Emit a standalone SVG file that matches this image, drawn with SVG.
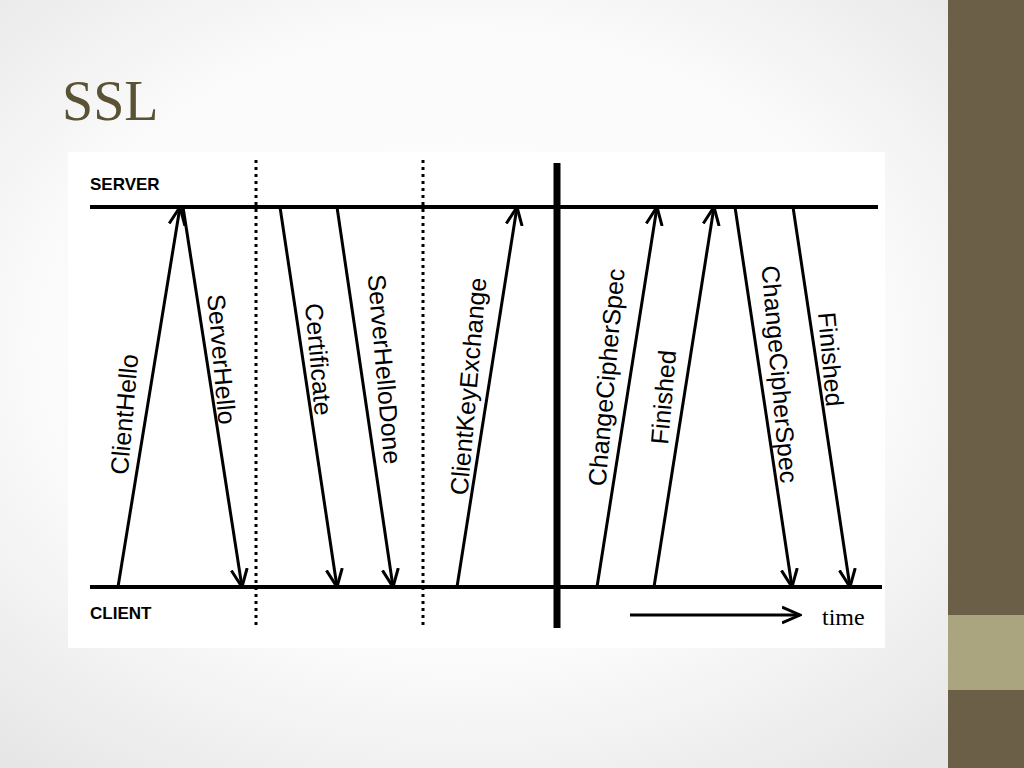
<svg xmlns="http://www.w3.org/2000/svg" width="1024" height="768" viewBox="0 0 1024 768">
<defs>
<radialGradient id="bg" cx="0.45" cy="0.45" r="0.7"><stop offset="0" stop-color="#ffffff"/><stop offset="0.6" stop-color="#fafafa"/><stop offset="1" stop-color="#e6e6e6"/></radialGradient>
<marker id="ah" viewBox="0 0 20 20" refX="18" refY="10" markerWidth="20" markerHeight="20" markerUnits="userSpaceOnUse" orient="auto"><polyline points="0,2 18,10 0,18" fill="none" stroke="#000" stroke-width="3"/></marker>
</defs>
<style>
.ar{stroke:#000;stroke-width:3;fill:none;marker-end:url(#ah)}
.lb{font-family:"Liberation Sans",Arial,sans-serif;font-size:25px;fill:#000;text-anchor:middle}
.hd{font-family:"Liberation Sans",Arial,sans-serif;font-size:17px;font-weight:bold;fill:#000}
.dot{stroke:#000;stroke-width:3;stroke-dasharray:3,4}
</style>
<rect width="1024" height="768" fill="url(#bg)"/>
<rect x="948" y="0" width="76" height="768" fill="#6b5f47"/>
<rect x="948" y="615" width="76" height="75" fill="#aaa57e"/>
<text x="62" y="120" font-family="Liberation Serif,serif" font-size="56" fill="#5a5235">SSL</text>
<rect x="68" y="152" width="817" height="496" fill="#fff"/>
<g id="axes">
<text class="hd" x="90" y="190">SERVER</text>
<text class="hd" x="90" y="619">CLIENT</text>
<line x1="90" y1="207" x2="878" y2="207" stroke="#000" stroke-width="4"/>
<line x1="90" y1="587" x2="882" y2="587" stroke="#000" stroke-width="4"/>
<line class="dot" x1="256" y1="160" x2="256" y2="625"/>
<line class="dot" x1="423" y1="160" x2="423" y2="625"/>
<line x1="557" y1="163" x2="557" y2="628" stroke="#000" stroke-width="7"/>
<line class="ar" x1="630" y1="615" x2="800" y2="615" stroke-width="3.5"/>
<text x="822" y="625" font-family="Liberation Serif,serif" font-size="24" fill="#000">time</text>
</g>
<g id="connectors">
<line class="ar" x1="118" y1="587" x2="180" y2="207"/>
<line class="ar" x1="183" y1="207" x2="242" y2="587"/>
<line class="ar" x1="280" y1="207" x2="337" y2="587"/>
<line class="ar" x1="337" y1="207" x2="393" y2="587"/>
<line class="ar" x1="457" y1="587" x2="517" y2="207"/>
<line class="ar" x1="597" y1="587" x2="657" y2="207"/>
<line class="ar" x1="654" y1="587" x2="714" y2="207"/>
<line class="ar" x1="735" y1="207" x2="792" y2="587"/>
<line class="ar" x1="793" y1="207" x2="850" y2="587"/>
</g>
<g id="labels">
<text class="lb" transform="translate(133,415) rotate(-85)">ClientHello</text>
<text class="lb" transform="translate(213,360) rotate(85)">ServerHello</text>
<text class="lb" transform="translate(310,360) rotate(85)">Certificate</text>
<text class="lb" transform="translate(376,370) rotate(85)">ServerHelloDone</text>
<text class="lb" transform="translate(477,387) rotate(-85)">ClientKeyExchange</text>
<text class="lb" transform="translate(615,378) rotate(-85)">ChangeCipherSpec</text>
<text class="lb" transform="translate(672,398) rotate(-85)">Finished</text>
<text class="lb" transform="translate(771,375) rotate(85)">ChangeCipherSpec</text>
<text class="lb" transform="translate(822,360) rotate(85)">Finished</text>
</g>
</svg>
